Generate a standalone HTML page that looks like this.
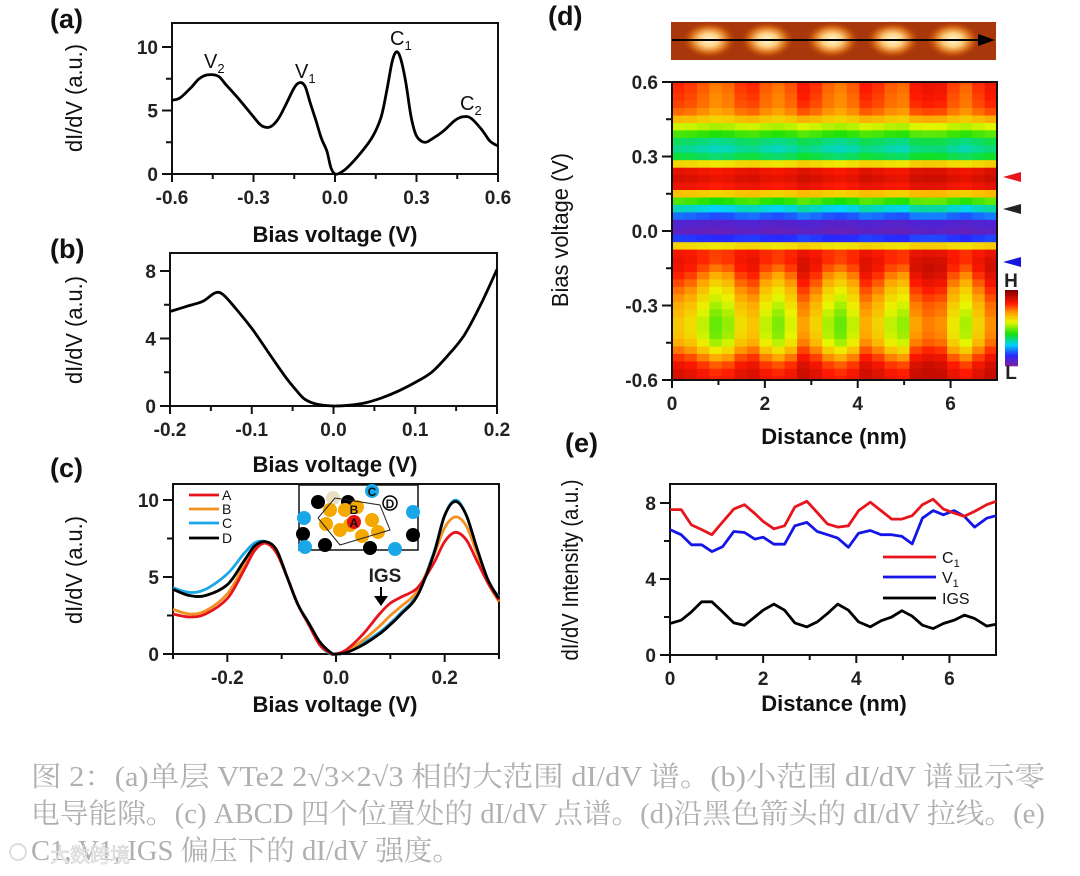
<!DOCTYPE html>
<html><head><meta charset="utf-8">
<style>
html,body{margin:0;padding:0;background:#fff;}
svg{display:block;font-family:"Liberation Sans",Arial,sans-serif;}
.tk{font-size:19px;font-weight:bold;fill:#222;}
.ttl{font-size:22px;font-weight:bold;fill:#111;}
.yt{font-size:23px;fill:#111;}
.pl{font-size:27px;font-weight:bold;fill:#111;}
</style></head>
<body>
<svg id="fig" width="1080" height="876" viewBox="0 0 1080 876">
<defs>
<radialGradient id="blob" cx="50%" cy="50%" r="50%">
<stop offset="0" stop-color="#fffbe0"/><stop offset="0.35" stop-color="#ffd080"/><stop offset="0.7" stop-color="#d06010"/><stop offset="1" stop-color="#a83008" stop-opacity="0"/>
</radialGradient>
</defs>
<g id="root"></g>
<g fill="#b0b0b0" style="font-family:'Liberation Serif','Noto Serif CJK SC',serif;font-size:28px;">
<text x="31" y="786" textLength="1014" lengthAdjust="spacingAndGlyphs">图 2：(a)单层 VTe2 2√3×2√3 相的大范围 dI/dV 谱。(b)小范围 dI/dV 谱显示零</text>
<text x="31" y="823" textLength="1014" lengthAdjust="spacingAndGlyphs">电导能隙。(c) ABCD 四个位置处的 dI/dV 点谱。(d)沿黑色箭头的 dI/dV 拉线。(e)</text>
<text x="31" y="860" textLength="430" lengthAdjust="spacingAndGlyphs">C1, V1, IGS 偏压下的 dI/dV 强度。</text>
</g>
<g>
<circle cx="18" cy="852" r="8" fill="none" stroke="#ddd" stroke-width="2"/>
<text x="50" y="862" font-size="20" fill="#eee" stroke="#ccc" stroke-width="0.5" style="font-family:'Noto Sans CJK SC',sans-serif">大数跨境</text>
</g>
</svg>
<script>
// ---------- Panel (a) data ----------
const aBias = [-0.6,-0.57,-0.53,-0.5,-0.47,-0.43,-0.4,-0.35,-0.3,-0.27,-0.24,-0.21,-0.18,-0.15,-0.13,-0.11,-0.09,-0.07,-0.05,-0.03,-0.015,0,0.02,0.05,0.1,0.14,0.17,0.19,0.21,0.225,0.24,0.26,0.28,0.3,0.33,0.36,0.4,0.44,0.47,0.5,0.54,0.57,0.6];
const aVals = [5.8,6.0,6.8,7.5,7.8,7.7,7.0,5.8,4.5,3.8,3.7,4.3,5.5,6.8,7.2,6.9,5.5,4.2,2.8,1.8,0.5,0,0.1,0.6,1.8,3.0,4.5,6.5,8.8,9.6,9.2,7.3,4.5,3.0,2.5,2.8,3.4,4.2,4.5,4.4,3.5,2.6,2.2];
const aXTicks = [-0.6,-0.3,0.0,0.3,0.6];
const aXTickLabels = ["-0.6","-0.3","0.0","0.3","0.6"];
const aYTicks = [0,5,10];
// ---------- Panel (b) data ----------
const bBias = [-0.2,-0.18,-0.16,-0.145,-0.135,-0.12,-0.1,-0.08,-0.06,-0.045,-0.035,-0.02,0,0.02,0.04,0.06,0.08,0.1,0.12,0.14,0.16,0.18,0.2];
const bVals = [5.6,5.9,6.2,6.7,6.6,5.8,4.6,3.2,1.8,0.9,0.4,0.1,0,0.05,0.2,0.5,0.9,1.4,2.0,3.0,4.2,6.0,8.1];
const bXTicks = [-0.2,-0.1,0.0,0.1,0.2];
const bXTickLabels = ["-0.2","-0.1","0.0","0.1","0.2"];
const bYTicks = [0,4,8];
// ---------- Panel (c) data ----------
const cBias = [-0.3,-0.27,-0.24,-0.2,-0.17,-0.15,-0.13,-0.11,-0.09,-0.07,-0.05,-0.03,-0.01,0,0.02,0.05,0.08,0.1,0.12,0.15,0.18,0.2,0.22,0.24,0.26,0.28,0.3];
const cA = [2.6,2.4,2.6,3.6,5.4,6.7,7.2,6.6,5.0,3.2,1.9,0.6,0.05,0,0.3,1.3,2.6,3.3,3.7,4.3,5.9,7.3,7.9,7.4,6.0,4.6,3.5];
const cB = [2.9,2.6,2.8,3.9,5.7,6.9,7.2,6.6,5.0,3.2,1.9,0.6,0.05,0,0.2,0.9,1.8,2.5,3.1,4.1,6.4,8.2,8.9,8.3,6.5,4.6,3.4];
const cC = [4.3,4.0,4.2,5.2,6.5,7.2,7.3,6.7,5.0,3.2,2.0,0.6,0.0,0,0.1,0.7,1.4,2.0,2.7,3.9,6.6,9.0,10.0,9.0,6.7,4.7,3.7];
const cD = [4.2,3.8,3.8,4.5,6.0,7.0,7.3,6.8,5.0,3.2,2.0,0.8,0.1,0,0.1,0.6,1.3,1.9,2.6,3.8,6.5,9.0,9.9,9.0,6.8,4.8,3.6];
const cXTicks = [-0.2,0.0,0.2];
const cXTickLabels = ["-0.2","0.0","0.2"];
const cYTicks = [0,5,10];
// ---------- Panel (d) data ----------
const dBiasRows = [0.6,0.57,0.54,0.51,0.48,0.45,0.42,0.39,0.36,0.33,0.3,0.27,0.24,0.21,0.18,0.15,0.12,0.09,0.06,0.03,0,-0.03,-0.06,-0.09,-0.12,-0.15,-0.18,-0.21,-0.24,-0.27,-0.3,-0.33,-0.36,-0.39,-0.42,-0.45,-0.48,-0.51,-0.54,-0.57,-0.6];
const dProfile = [.80,.79,.78,.77,.74,.66,.55,.45,.36,.33,.38,.62,.86,.88,.85,.65,.45,.30,.18,.06,.04,.14,.62,.83,.84,.82,.78,.74,.70,.67,.64,.62,.60,.60,.61,.64,.70,.77,.83,.86,.87];
const dRowWeight = [.08,.08,.08,.07,.06,.04,.03,.03,.03,.03,.03,.03,.03,.03,.03,.03,.04,.04,.03,.01,.01,.02,.03,.05,.07,.11,.14,.15,.16,.16,.16,.17,.17,.17,.17,.16,.15,.12,.09,.07,.06];
const dColDist = [0.13,0.40,0.67,0.94,1.21,1.48,1.75,2.02,2.29,2.56,2.83,3.10,3.37,3.63,3.90,4.17,4.44,4.71,4.98,5.25,5.52,5.79,6.06,6.33,6.60,6.87];
const dColMod = [0.3,0.1,-0.3,-0.7,-0.5,0.1,0.3,-0.3,-0.6,-0.2,0.6,0.2,-0.4,-0.7,-0.3,0.5,0.2,-0.3,-0.5,0.6,0.8,0.7,0.0,-0.4,0.2,0.7];
const dYTicks = [0.6,0.3,0.0,-0.3,-0.6];
const dYTickLabels = ["0.6","0.3","0.0","-0.3","-0.6"];
const dXTicks = [0,2,4,6];
const stripBlobs = [0.8,2.05,3.45,4.75,6.05];
// ---------- Panel (e) data ----------
const eDist = [0,0.24,0.46,0.68,0.9,1.13,1.37,1.6,1.82,2.0,2.23,2.46,2.68,2.94,3.16,3.38,3.6,3.83,4.05,4.3,4.53,4.76,4.98,5.2,5.42,5.65,5.87,6.1,6.32,6.54,6.8,7.0];
const eC1 = [7.65,7.65,6.85,6.6,6.33,7.0,7.68,7.91,7.45,7.03,6.64,6.8,7.79,8.09,7.5,6.9,6.73,6.8,7.6,8.04,7.6,7.15,7.15,7.33,7.91,8.2,7.68,7.47,7.3,7.56,7.91,8.09];
const eV1 = [6.6,6.33,5.8,5.8,5.44,5.7,6.5,6.45,6.1,6.2,5.83,5.83,6.8,6.98,6.5,6.33,6.15,5.67,6.41,6.55,6.33,6.33,6.24,5.85,7.2,7.6,7.38,7.6,7.3,6.73,7.2,7.33];
const eIGS = [1.66,1.83,2.27,2.8,2.8,2.27,1.69,1.57,2.0,2.36,2.68,2.36,1.69,1.48,1.74,2.18,2.68,2.36,1.74,1.48,1.8,2.0,2.33,2.04,1.57,1.39,1.66,1.83,2.1,1.92,1.52,1.62];
const eXTicks = [0,2,4,6];
const eYTicks = [0,4,8];

const NS = "http://www.w3.org/2000/svg";
const root = document.getElementById('root');
function mk(tag, attrs, parent){ const e=document.createElementNS(NS,tag); for(const k in attrs) e.setAttribute(k,attrs[k]); (parent||root).appendChild(e); return e; }
function lin(d0,d1,r0,r1){ return v => r0 + (v-d0)/(d1-d0)*(r1-r0); }
function smooth(pts){
  let d = `M${pts[0][0]},${pts[0][1]}`;
  for(let i=0;i<pts.length-1;i++){
    const p0=pts[Math.max(0,i-1)], p1=pts[i], p2=pts[i+1], p3=pts[Math.min(pts.length-1,i+2)];
    const c1x=p1[0]+(p2[0]-p0[0])/6, c1y=p1[1]+(p2[1]-p0[1])/6;
    const c2x=p2[0]-(p3[0]-p1[0])/6, c2y=p2[1]-(p3[1]-p1[1])/6;
    d += ` C${c1x.toFixed(1)},${c1y.toFixed(1)} ${c2x.toFixed(1)},${c2y.toFixed(1)} ${p2[0].toFixed(1)},${p2[1].toFixed(1)}`;
  }
  return d;
}
function txt(x,y,s,cls,anchor,parent){ const t=mk('text',{x:x,y:y,class:cls,'text-anchor':anchor||'middle'},parent); t.textContent=s; return t; }

function axesBox(g,L,T,R,B){
  const r = mk('rect',{x:L,y:T,width:R-L,height:B-T,fill:'none',stroke:'#111','stroke-width':2},g);
  
  
}
function xTicks(g,sx,B,ticks,labels,minor){
  ticks.forEach((v,i)=>{
    mk('line',{x1:sx(v),x2:sx(v),y1:B,y2:B+8,stroke:'#111','stroke-width':2},g);
    const t=txt(sx(v),B+30,labels?labels[i]:String(v),'tk','middle',g);
    
    
  });
  (minor||[]).forEach(v=>mk('line',{x1:sx(v),x2:sx(v),y1:B,y2:B+5,stroke:'#111','stroke-width':2},g));
}
function yTicks(g,sy,L,ticks,labels,minor){
  ticks.forEach((v,i)=>{
    mk('line',{x1:L-10,x2:L,y1:sy(v),y2:sy(v),stroke:'#111','stroke-width':2},g);
    const t=txt(L-14,sy(v)+7,labels?labels[i]:String(v),'tk','end',g);
    
    
  });
  (minor||[]).forEach(v=>mk('line',{x1:L-6,x2:L,y1:sy(v),y2:sy(v),stroke:'#111','stroke-width':2},g));
}
function rotTitle(g,x,y,s,name,sc){
  const t=mk('text',{x:0,y:0,class:'yt','text-anchor':'middle',transform:`translate(${x},${y}) rotate(-90) scale(${sc||0.95},1)`},g);
  t.textContent=s;
  
  
}
function label(x,y,s,name){
  const t=txt(x,y,s,'pl','start');
  
  
}
function curve(g,xs,ys,sx,sy,color,name,straight){
  const pts = xs.map((x,i)=>[sx(x),sy(ys[i])]);
  const d = straight ? 'M'+pts.map(p=>p[0].toFixed(1)+','+p[1].toFixed(1)).join(' L') : smooth(pts);
  const p = mk('path',{d:d,fill:'none',stroke:color,'stroke-width':2.8,'stroke-linejoin':'round'},g);
  
  
}

// ===== Panel (a) =====
(function(){
  const g = mk('g',{});  
  const L=172,R=498,T=23,B=174;
  const sx=lin(-0.6,0.6,L,R), sy=lin(0,10,B,47);
  axesBox(g,L,T,R,B);
  xTicks(g,sx,B,aXTicks,aXTickLabels,[-0.45,-0.15,0.15,0.45]);
  yTicks(g,sy,L,aYTicks,null,[2.5,7.5]);
  curve(g,aBias,aVals,sx,sy,'#000','curve-a');
  const xt=txt(335,242,'Bias voltage (V)','ttl','middle',g);  
  rotTitle(g,82,98,'dI/dV (a.u.)','y-axis-title');
  [['V','2',204,68],['V','1',295,78],['C','1',390,45],['C','2',460,110]].forEach(p=>{
    const t=mk('text',{x:p[2],y:p[3],'font-size':20,fill:'#111'},g);
    t.textContent=p[0];
    const s=mk('tspan',{'font-size':13,dy:5},t); s.textContent=p[1];
    
    
  });
})();
label(50,28,'(a)','panel-label-a');

// ===== Panel (b) =====
(function(){
  const g = mk('g',{});  
  const L=170,R=497,T=253,B=406;
  const sx=lin(-0.2,0.2,L,R), sy=lin(0,8,B,271);
  axesBox(g,L,T,R,B);
  xTicks(g,sx,B,bXTicks,bXTickLabels,[-0.15,-0.05,0.05,0.15]);
  yTicks(g,sy,L,bYTicks,null,[2,6]);
  curve(g,bBias,bVals,sx,sy,'#000','curve-b');
  const xt=txt(335,472,'Bias voltage (V)','ttl','middle',g);  
  rotTitle(g,82,330,'dI/dV (a.u.)','y-axis-title');
})();
label(50,258,'(b)','panel-label-b');

// ===== Panel (c) =====
(function(){
  const g = mk('g',{});  
  const L=173,R=499,T=484,B=654;
  const sx=lin(-0.3,0.3,L,R), sy=lin(0,10,B,500);
  axesBox(g,L,T,R,B);
  xTicks(g,sx,B,cXTicks,cXTickLabels,[-0.3,-0.1,0.1,0.3]);
  yTicks(g,sy,L,cYTicks,null,[2.5,7.5]);
  curve(g,cBias,cC,sx,sy,'#1aa7e8','curve-c');
  curve(g,cBias,cB,sx,sy,'#f39020','curve-b');
  curve(g,cBias,cA,sx,sy,'#e8141c','curve-a');
  curve(g,cBias,cD,sx,sy,'#000','curve-d');
  const xt=txt(335,712,'Bias voltage (V)','ttl','middle',g);  
  rotTitle(g,82,570,'dI/dV (a.u.)','y-axis-title');
  const lg = mk('g',{},g);  
  [['A','#e8141c',495],['B','#f39020',509],['C','#1aa7e8',523],['D','#000',538]].forEach(e=>{
    const le = mk('g',{},lg);
    
    
    mk('line',{x1:189,x2:219,y1:e[2],y2:e[2],stroke:e[1],'stroke-width':2.8},le);
    const t=mk('text',{x:222,y:e[2]+5,'font-size':14,fill:'#111'},le); t.textContent=e[0];
  });
  const ins = mk('g',{},g);  
  mk('rect',{x:299,y:485,width:119,height:65,fill:'#fff',stroke:'#111','stroke-width':1.5},ins);
  const dots=[[304,518,'#1aa7e8'],[318,502,'#000'],[348,502,'#000'],[333,498,'#e8e0c0'],[372,491,'#1aa7e8'],[390,503,'#fff'],[413,512,'#1aa7e8'],[303,534,'#000'],[305,547,'#1aa7e8'],[325,545,'#000'],[370,548,'#000'],[395,549,'#1aa7e8'],[413,535,'#000'],[330,510,'#f5a800'],[345,510,'#f5a800'],[326,524,'#f5a800'],[340,530,'#f5a800'],[357,507,'#f5a800'],[372,520,'#f5a800'],[378,532,'#f5a800'],[362,536,'#f5a800'],[350,525,'#f5a800']];
  dots.forEach(d=>mk('circle',{cx:d[0],cy:d[1],r:7,fill:d[2]},ins));
  mk('circle',{cx:354,cy:522,r:7,fill:'#e81010'},ins);
  mk('polyline',{points:'318,518 335,498 380,505 390,530 340,545 318,518',fill:'none',stroke:'#222','stroke-width':1},ins);
  mk('circle',{cx:390,cy:503,r:7,fill:'#fff',stroke:'#000','stroke-width':1.5},ins);
  [['C',372,496],['B',354,514],['A',354,527],['D',390,508]].forEach(l=>{const t=mk('text',{x:l[1],y:l[2],'font-size':12,'font-weight':'bold','text-anchor':'middle',fill:'#111'},ins); t.textContent=l[0];});
  const ig=txt(385,582,'IGS','tk','middle',g); ig.setAttribute('font-weight','normal'); ig.setAttribute('font-size','19');
   
  const ar=mk('path',{d:'M380,587 L380,596 L374,596 L381,606 L388,596 L382,596 L382,587 Z',fill:'#000'},g);
   
})();
label(50,477,'(c)','panel-label-c');

// ===== Panel (d) =====
function cmap(v){
  v=Math.max(0,Math.min(1,v));
  const st=[[0,[120,30,165]],[0.13,[40,40,255]],[0.27,[0,210,255]],[0.42,[20,225,10]],[0.58,[235,245,0]],[0.7,[255,165,0]],[0.83,[255,25,0]],[1,[135,0,0]]];
  for(let i=0;i<st.length-1;i++){ if(v<=st[i+1][0]){ const t=(v-st[i][0])/(st[i+1][0]-st[i][0]); const c=st[i][1].map((a,k)=>Math.round(a+(st[i+1][1][k]-a)*t)); return `rgb(${c})`; } }
  return 'rgb(135,0,0)';
}
(function(){
  const g = mk('g',{});  
  const L=672,R=997,T=82,B=380;
  const sx=lin(0,7,L,R), sy=lin(0.6,-0.6,T,B);
  const hm = mk('g',{},g);  
  const dx = 7/dColDist.length, dy=0.03;
  dBiasRows.forEach((b,ri)=>{
    dColDist.forEach((c,ci)=>{
      const v = dProfile[ri] + dColMod[ci]*dRowWeight[ri];
      const y0 = Math.max(T, sy(b+dy/2)), y1 = Math.min(B, sy(b-dy/2));
      const cell = mk('rect',{x:sx(c-dx/2).toFixed(1),y:y0.toFixed(1),width:(sx(dx)-sx(0)+0.6).toFixed(1),height:(y1-y0+0.6).toFixed(1),fill:cmap(v)},hm);
      
      
    });
  });
  axesBox(g,L,T,R,B);
  yTicks(g,sy,L,dYTicks,dYTickLabels,[0.45,0.15,-0.15,-0.45]);
  xTicks(g,sx,B,dXTicks,null,[1,3,5]);
  const xt=txt(834,444,'Distance (nm)','ttl','middle',g);  
  rotTitle(g,568,230,'Bias voltage (V)','y-axis-title');
  [['#e8141c',177,'marker-c1'],['#222',209,'marker-igs'],['#1515e0',262,'marker-v1']].forEach(m=>{
    const p=mk('path',{d:`M1003,${m[1]} L1021,${m[1]-5} L1021,${m[1]+5} Z`,fill:m[0]},g);
     
  });
  const cb = mk('g',{},g);  
  for(let i=0;i<40;i++){ mk('rect',{x:1005,y:(290+i*1.9).toFixed(1),width:13,height:2.2,fill:cmap(1-i/39)},cb); }
  const h=txt(1011,287,'H','tk','middle',cb); h.setAttribute('font-size','13');
  const l=txt(1011,379,'L','tk','middle',cb); l.setAttribute('font-size','13');
  const st = mk('g',{},g);  
  mk('rect',{x:671,y:22,width:325,height:38,fill:'#a8380c'},st);
  stripBlobs.forEach(d=>mk('ellipse',{cx:sx(d),cy:40,rx:28,ry:19,fill:'url(#blob)'},st));
  mk('line',{x1:672,x2:980,y1:40,y2:40,stroke:'#000','stroke-width':2},st);
  const ah=mk('path',{d:'M978,34 L995,40 L978,46 Z',fill:'#000'},st);
   
})();
label(548,25,'(d)','panel-label-d');

// ===== Panel (e) =====
(function(){
  const g = mk('g',{});  
  const L=670,R=996,T=484,B=655;
  const sx=lin(0,7,L,R), sy=lin(0,8,B,503);
  axesBox(g,L,T,R,B);
  xTicks(g,sx,B,eXTicks,null,[1,3,5]);
  yTicks(g,sy,L,eYTicks,null,[2,6]);
  curve(g,eDist,eIGS,sx,sy,'#000','line-igs',true);
  curve(g,eDist,eV1,sx,sy,'#1515e8','line-v1',true);
  curve(g,eDist,eC1,sx,sy,'#e8141c','line-c1',true);
  const xt=txt(834,711,'Distance (nm)','ttl','middle',g);  
  rotTitle(g,578,570,'dI/dV Intensity (a.u.)','y-axis-title',0.88);
  const lg = mk('g',{},g);  
  [['C','1','#e8141c',557],['V','1','#1515e8',577],['IGS','','#000',598]].forEach(e=>{
    const le=mk('g',{},lg);
    
    
    mk('line',{x1:883,x2:936,y1:e[3],y2:e[3],stroke:e[2],'stroke-width':2.8},le);
    const t=mk('text',{x:942,y:e[3]+6,'font-size':16,fill:'#111'},le); t.textContent=e[0];
    if(e[1]){ const s=mk('tspan',{'font-size':11,dy:4},t); s.textContent=e[1]; }
  });
})();
label(565,452,'(e)','panel-label-e');
</script>
</body></html>
